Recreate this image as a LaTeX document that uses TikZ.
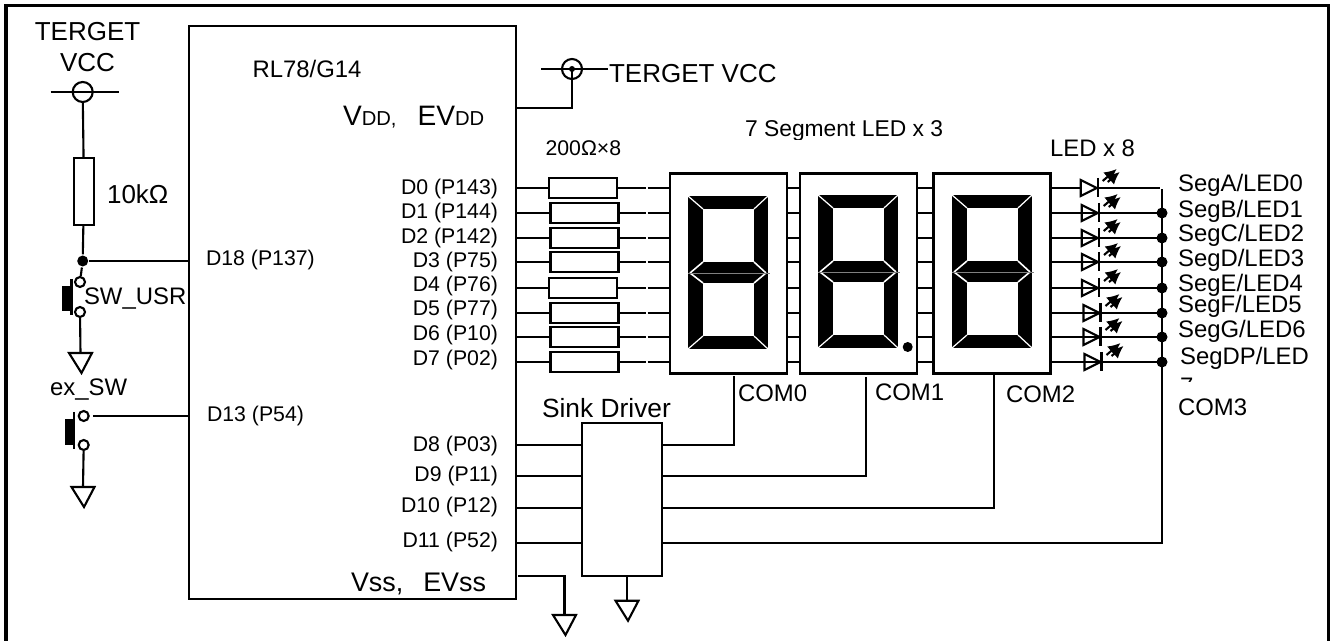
\documentclass[tikz,border=0pt]{standalone}
\usepackage{fontspec}
\setmainfont{Liberation Sans}
\usetikzlibrary{arrows.meta}
\tikzset{
  txtbig/.style = {inner sep=0pt, font=\fontsize{14.8}{17.6}\selectfont},
  txtmid/.style = {inner sep=0pt, font=\fontsize{13.6}{16}\selectfont},
  txtpin/.style = {inner sep=0pt, font=\fontsize{12.1}{14}\selectfont},
  txtsup/.style = {inner sep=0pt, font=\fontsize{16}{19}\selectfont},
  box/.style = {draw, rectangle, inner sep=0pt, outer sep=0pt},
  res/.style = {box, minimum width=1.36cm, minimum height=0.39cm},
  digit/.style = {box, line width=1.4pt, minimum width=2.34cm, minimum height=4cm},
  contact/.style = {draw, circle, fill=white, inner sep=0pt, minimum size=0.2cm},
  junction/.style = {circle, fill, inner sep=0pt, minimum size=0.22cm},
  gnd/.pic = {\draw (-11.5,0) -- (11.5,0) -- (1,20) -- cycle;},
  sevenseg/.pic = {
    \fill (0,0) rectangle (80,153);
    \fill[white] (15,13) rectangle (66,66);
    \fill[white] (15,87) rectangle (66,140);
    \draw[white, line width=0.7pt] (0,0) -- (15,13) (80,0) -- (66,13) (0,153) -- (15,140) (80,153) -- (66,140);
    \draw[white, line width=0.9pt] (2,77) -- (15,66) (78,77) -- (66,66) (2,77) -- (15,87) (78,77) -- (66,87);
    \draw[gray, line width=0.3pt] (0,77) -- (82,77);
  },
  ledsym/.pic = {
    \draw[pic actions] (0,-8) -- (16,0) -- (0,8) -- cycle;
    \draw (17,-10) -- (17,9);
    \draw[-{Latex[length=7pt,width=7pt]}] (22,-7) -- (36,-19);
    \draw[-{Latex[length=7pt,width=7pt]}] (27,-6) -- (39,-16);
  },
}
\begin{document}
\begin{tikzpicture}[x=0.02cm, y=-0.02cm, line width=1.2pt]
  \useasboundingbox (0,0) rectangle (1333,641);
  \draw[line width=1.8pt] (6,641) -- (6,5.5) -- (1328.5,5.5) -- (1328.5,641);

  \node[box, minimum width=6.54cm, minimum height=11.46cm] (chip) at (352.5,312.5) {};
  \node[txtmid, anchor=base west] (chipname) at (251.5,78) {RL78/G14};
  \node[txtsup, anchor=base west] (vdd) at (342,126) {V{\fontsize{11.5}{14}\selectfont DD,}\hspace{0.42cm}EV{\fontsize{11.5}{14}\selectfont DD}};
  \node[txtbig, font=\fontsize{15.3}{18}\selectfont, anchor=base west] (vss) at (350,592) {Vss,\hspace{0.40cm}EVss};

  % left side
  \node[txtbig, align=center] (vccltxt) at (87.5,47) {TERGET\\VCC};
  \node[draw, circle, inner sep=0pt, minimum size=0.4cm] (vccl) at (82.7,92) {};
  \draw (vccl.center) ++(-32,0) -- ++(68,0);
  \node[box, minimum width=0.4cm, minimum height=1.34cm] (r10k) at (84,191.5) {};
  \node[txtbig, anchor=base west] (r10ktxt) at (106,204) {10kΩ};
  \node[junction] (jsw) at (82.7,261) {};
  \node[contact] (swa) at (80,282) {};
  \node[contact] (swb) at (80,312) {};
  \coordinate (g0) at (80.5,353);
  \node[txtmid, anchor=base west] (swtxt) at (83,305) {SW\_USR};
  \node[txtpin, anchor=base west] (p18) at (205,266) {D18 (P137)};
  \draw (vccl) -- (r10k);
  \draw (r10k) -- (jsw);
  \draw (jsw) -- (swa);
  \draw (jsw) -- (chip.west |- jsw);
  \draw (swb) -- (g0);
  \pic at (g0) {gnd};
  \fill (62,286) rectangle (70,311);
  \draw[line width=1.5pt] (71.5,279) -- (71.5,315);

  \node[txtmid, anchor=base west] (extxt) at (49,396) {ex\_SW};
  \node[contact] (exa) at (83.7,416) {};
  \node[contact] (exb) at (83.7,445) {};
  \coordinate (g1) at (83,487);
  \node[txtpin, anchor=base west] (p13) at (206,422) {D13 (P54)};
  \draw (exa.east) ++(3,0) -- (chip.west |- exa);
  \draw (exb) -- (g1);
  \pic at (g1) {gnd};
  \fill (65,419) rectangle (73,445);
  \draw[line width=1.5pt] (74,412) -- (74,449);

  % top supply
  \node[draw, circle, inner sep=0pt, minimum size=0.4cm] (vccr) at (572,69) {};
  \fill (vccr.center) circle (3);
  \draw (vccr.center) ++(-31,0) -- ++(67,0);
  \coordinate (vddpin) at (516,108);
  \draw (vccr.center) |- (vddpin);
  \node[txtbig, anchor=base west] (vccrtxt) at (608,83) {TERGET VCC};

  \node[txtpin, anchor=base west] (rtxt) at (544.5,156) {200Ω×8};
  \begin{scope}
    \clip (730,110) rectangle (960,140);
    \node[font=\fontsize{13}{16}\selectfont, inner sep=0pt, anchor=base west] (segtxt) at (744,137) {7 Segment LED x 3};
  \end{scope}
  \node[txtmid, anchor=base west] (ledtxt) at (1049,156.5) {LED x 8};

  \node[digit] (led0) at (728.5,273.5) {};
  \node[digit] (led1) at (858.5,273.5) {};
  \node[digit] (led2) at (992,273.5) {};
  \pic at (688,196) {sevenseg};
  \pic at (818,195) {sevenseg};
  \pic at (952,195) {sevenseg};
  \fill (907.7,347) circle (5);

  % segment lines
  \foreach \i/\y/\rx/\b/\pin in {
    0/188/583/195/D0 (P143),
    1/213/584.5/219/D1 (P144),
    2/238/584.5/244/D2 (P142),
    3/262/584.5/268/D3 (P75),
    4/288/583/292/D4 (P76),
    5/313/584.5/316/D5 (P77),
    6/337/584.5/341/D6 (P10),
    7/362/584.5/366/D7 (P02)}
  {
    \node[res] (r\i) at (\rx,\y) {};
    \node[txtpin, anchor=base east] (pin\i) at (499,\b) {\pin};
    \coordinate (ga\i) at (645.5,\y);
    \coordinate (gb\i) at (647.5,\y);
    \draw (chip.east |- r\i) -- (r\i);
    \draw (r\i) -- (ga\i);
    \draw (gb\i) -- (led0.west |- gb\i);
    \draw (led0.east |- gb\i) -- (led1.west |- gb\i);
    \draw (led1.east |- gb\i) -- (led2.west |- gb\i);
  }

  % LEDs
  \foreach \i/\lx/\f/\b/\sx/\seg in {
    0/1080.7/white/192/1177/{SegA/LED0},
    1/1081.7/none/218/1177/{SegB/LED1},
    2/1081.7/none/242/1177/{SegC/LED2},
    3/1082/none/267/1177/{SegD/LED3},
    4/1082/none/292/1177/{SegE/LED4},
    5/1083.5/none/313/1177/{SegF/LED5},
    6/1083.5/none/338/1177/{SegG/LED6},
    7/1084.5/none/365/1179/{SegDP/LED}}
  {
    \coordinate (e\i) at (1160,0 |- r\i);
    \draw (led2.east |- r\i) -- (e\i);
    \pic[fill=\f] at (\lx,0 |- r\i) {ledsym};
    \node[txtmid, anchor=base west] (seg\i) at (\sx,\b) {\seg};
  }
  \foreach \i in {1,...,7} {
    \node[junction] (j\i) at (1162,0 |- r\i) {};
  }
  \begin{scope}
    \clip (1170,370) rectangle (1200,382);
    \node[txtmid, anchor=base west] (segwrap) at (1179,395) {7};
  \end{scope}

  % sink driver
  \node[box, minimum width=1.6cm, minimum height=3.06cm] (sink) at (622,499.5) {};
  \node[txtbig, font=\fontsize{15}{18}\selectfont, anchor=base west] (sinktxt) at (541,417.5) {Sink Driver};
  \coordinate (c0) at (734,376);
  \coordinate (c1) at (865.7,377);
  \coordinate (c2) at (994,373);
  \coordinate (c3) at (1162,189);
  \foreach \i/\y/\b/\pin in {
    0/445/451.7/D8 (P03),
    1/476/481.7/D9 (P11),
    2/507.7/513/D10 (P12),
    3/543/547.7/D11 (P52)}
  {
    \coordinate (d\i) at (516,\y);
    \node[txtpin, anchor=base east] (dp\i) at (499,\b) {\pin};
    \draw (d\i) -- (sink.west |- d\i);
    \draw (sink.east |- d\i) -| (c\i);
  }
  \node[txtmid, anchor=base west] (com0) at (737,401.7) {COM0};
  \node[txtmid, anchor=base west] (com1) at (874,401) {COM1};
  \node[txtmid, anchor=base west] (com2) at (1005,402.7) {COM2};
  \node[txtmid, anchor=base west] (com3) at (1177,416) {COM3};

  % grounds
  \coordinate (g2) at (627,600.7);
  \draw (sink.south -| g2) -- (g2);
  \pic at (g2) {gnd};
  \coordinate (vsspin) at (518,576);
  \coordinate (g3) at (564.5,615);
  \draw (vsspin) -| (g3);
  \pic at (g3) {gnd};
\end{tikzpicture}
\end{document}
